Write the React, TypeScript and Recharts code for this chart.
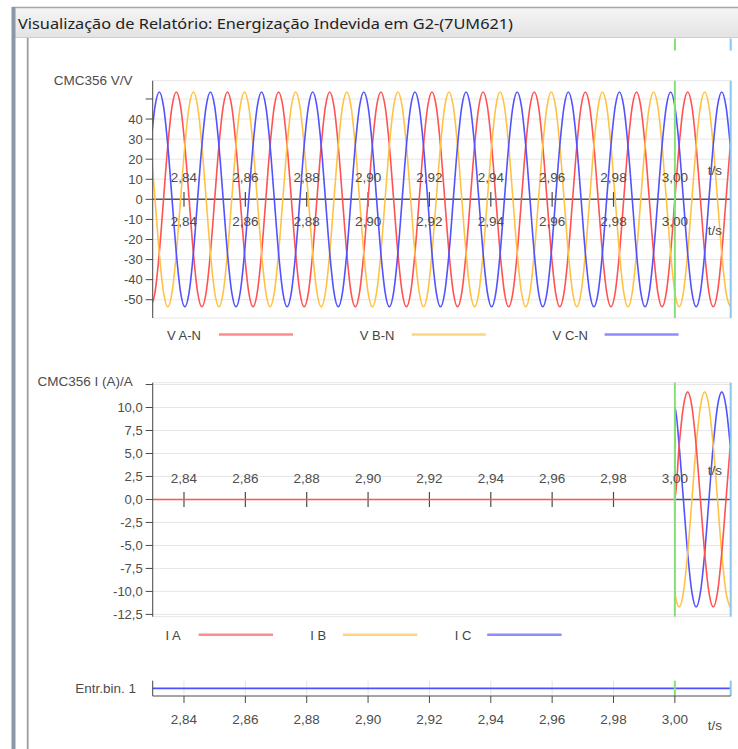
import React from "react";
import {
  LineChart,
  Line,
  XAxis,
  YAxis,
  CartesianGrid,
  ReferenceLine,
  ReferenceDot,
} from "recharts";

// ---- data ----
const timeTicks = [2.84, 2.86, 2.88, 2.9, 2.92, 2.94, 2.96, 2.98, 3.0];
const timeDomain: [number, number] = [2.8298, 3.0182];
const energizeTime = 3.0;

const voltageTicks = [-50, -40, -30, -20, -10, 0, 10, 20, 30, 40, 50];
const currentTicks = [-12.5, -10, -7.5, -5, -2.5, 0, 2.5, 5, 7.5, 10, 12.5];

const voltageNames = ["V A-N", "V B-N", "V C-N"];
const currentNames = ["I A", "I B", "I C"];
const binaryName = "Entr.bin. 1";

// sample times, s (12 samples per 60 Hz cycle)
const sampleTimes = [
  2.82917, 2.83056, 2.83194, 2.83333, 2.83472, 2.83611, 2.8375, 2.83889, 2.84028, 2.84167, 2.84306, 2.84444,
  2.84583, 2.84722, 2.84861, 2.85, 2.85139, 2.85278, 2.85417, 2.85556, 2.85694, 2.85833, 2.85972, 2.86111,
  2.8625, 2.86389, 2.86528, 2.86667, 2.86806, 2.86944, 2.87083, 2.87222, 2.87361, 2.875, 2.87639, 2.87778,
  2.87917, 2.88056, 2.88194, 2.88333, 2.88472, 2.88611, 2.8875, 2.88889, 2.89028, 2.89167, 2.89306, 2.89444,
  2.89583, 2.89722, 2.89861, 2.9, 2.90139, 2.90278, 2.90417, 2.90556, 2.90694, 2.90833, 2.90972, 2.91111,
  2.9125, 2.91389, 2.91528, 2.91667, 2.91806, 2.91944, 2.92083, 2.92222, 2.92361, 2.925, 2.92639, 2.92778,
  2.92917, 2.93056, 2.93194, 2.93333, 2.93472, 2.93611, 2.9375, 2.93889, 2.94028, 2.94167, 2.94306, 2.94444,
  2.94583, 2.94722, 2.94861, 2.95, 2.95139, 2.95278, 2.95417, 2.95556, 2.95694, 2.95833, 2.95972, 2.96111,
  2.9625, 2.96389, 2.96528, 2.96667, 2.96806, 2.96944, 2.97083, 2.97222, 2.97361, 2.975, 2.97639, 2.97778,
  2.97917, 2.98056, 2.98194, 2.98333, 2.98472, 2.98611, 2.9875, 2.98889, 2.99028, 2.99167, 2.99306, 2.99444,
  2.99583, 2.99722, 2.99861, 3.0, 3.00139, 3.00278, 3.00417, 3.00556, 3.00694, 3.00833, 3.00972, 3.01111,
  3.0125, 3.01389, 3.01528, 3.01667, 3.01806,
];

// V A-N, V
const vaN = [
  -53.5, -46.3, -26.8, 0, 26.8, 46.3, 53.5, 46.3, 26.8, 0, -26.8, -46.3,
  -53.5, -46.3, -26.8, 0, 26.8, 46.3, 53.5, 46.3, 26.8, 0, -26.8, -46.3,
  -53.5, -46.3, -26.8, 0, 26.8, 46.3, 53.5, 46.3, 26.8, 0, -26.8, -46.3,
  -53.5, -46.3, -26.8, 0, 26.8, 46.3, 53.5, 46.3, 26.8, 0, -26.8, -46.3,
  -53.5, -46.3, -26.8, 0, 26.8, 46.3, 53.5, 46.3, 26.8, 0, -26.8, -46.3,
  -53.5, -46.3, -26.8, 0, 26.8, 46.3, 53.5, 46.3, 26.8, 0, -26.8, -46.3,
  -53.5, -46.3, -26.8, 0, 26.8, 46.3, 53.5, 46.3, 26.8, 0, -26.8, -46.3,
  -53.5, -46.3, -26.8, 0, 26.8, 46.3, 53.5, 46.3, 26.8, 0, -26.8, -46.3,
  -53.5, -46.3, -26.8, 0, 26.8, 46.3, 53.5, 46.3, 26.8, 0, -26.8, -46.3,
  -53.5, -46.3, -26.8, 0, 26.8, 46.3, 53.5, 46.3, 26.8, 0, -26.8, -46.3,
  -53.5, -46.3, -26.8, 0, 26.8, 46.3, 53.5, 46.3, 26.8, 0, -26.8, -46.3,
  -53.5, -46.3, -26.8, 0, 26.8,
];

// V B-N, V
const vbN = [
  26.8, 0, -26.8, -46.3, -53.5, -46.3, -26.8, 0, 26.8, 46.3, 53.5, 46.3,
  26.8, 0, -26.8, -46.3, -53.5, -46.3, -26.8, 0, 26.8, 46.3, 53.5, 46.3,
  26.8, 0, -26.8, -46.3, -53.5, -46.3, -26.8, 0, 26.8, 46.3, 53.5, 46.3,
  26.8, 0, -26.8, -46.3, -53.5, -46.3, -26.8, 0, 26.8, 46.3, 53.5, 46.3,
  26.8, 0, -26.8, -46.3, -53.5, -46.3, -26.8, 0, 26.8, 46.3, 53.5, 46.3,
  26.8, 0, -26.8, -46.3, -53.5, -46.3, -26.8, 0, 26.8, 46.3, 53.5, 46.3,
  26.8, 0, -26.8, -46.3, -53.5, -46.3, -26.8, 0, 26.8, 46.3, 53.5, 46.3,
  26.8, 0, -26.8, -46.3, -53.5, -46.3, -26.8, 0, 26.8, 46.3, 53.5, 46.3,
  26.8, 0, -26.8, -46.3, -53.5, -46.3, -26.8, 0, 26.8, 46.3, 53.5, 46.3,
  26.8, 0, -26.8, -46.3, -53.5, -46.3, -26.8, 0, 26.8, 46.3, 53.5, 46.3,
  26.8, 0, -26.8, -46.3, -53.5, -46.3, -26.8, 0, 26.8, 46.3, 53.5, 46.3,
  26.8, 0, -26.8, -46.3, -53.5,
];

// V C-N, V
const vcN = [
  26.8, 46.3, 53.5, 46.3, 26.8, 0, -26.8, -46.3, -53.5, -46.3, -26.8, 0,
  26.8, 46.3, 53.5, 46.3, 26.8, 0, -26.8, -46.3, -53.5, -46.3, -26.8, 0,
  26.8, 46.3, 53.5, 46.3, 26.8, 0, -26.8, -46.3, -53.5, -46.3, -26.8, 0,
  26.8, 46.3, 53.5, 46.3, 26.8, 0, -26.8, -46.3, -53.5, -46.3, -26.8, 0,
  26.8, 46.3, 53.5, 46.3, 26.8, 0, -26.8, -46.3, -53.5, -46.3, -26.8, 0,
  26.8, 46.3, 53.5, 46.3, 26.8, 0, -26.8, -46.3, -53.5, -46.3, -26.8, 0,
  26.8, 46.3, 53.5, 46.3, 26.8, 0, -26.8, -46.3, -53.5, -46.3, -26.8, 0,
  26.8, 46.3, 53.5, 46.3, 26.8, 0, -26.8, -46.3, -53.5, -46.3, -26.8, 0,
  26.8, 46.3, 53.5, 46.3, 26.8, 0, -26.8, -46.3, -53.5, -46.3, -26.8, 0,
  26.8, 46.3, 53.5, 46.3, 26.8, 0, -26.8, -46.3, -53.5, -46.3, -26.8, 0,
  26.8, 46.3, 53.5, 46.3, 26.8, 0, -26.8, -46.3, -53.5, -46.3, -26.8, 0,
  26.8, 46.3, 53.5, 46.3, 26.8,
];

// currents, A (zero until the unit is energized at 3,00 s)
const iaTimes = [2.82917, 3.0, 3.00139, 3.00278, 3.00417, 3.00556, 3.00694, 3.00833, 3.00972, 3.01111, 3.0125, 3.01389, 3.01528, 3.01667, 3.01806];
const iaValues = [0, 0, 5.85, 10.1, 11.7, 10.1, 5.85, 0, -5.85, -10.1, -11.7, -10.1, -5.85, 0, 5.85];
const ibTimes = [2.99995, 3.0, 3.00139, 3.00278, 3.00417, 3.00556, 3.00694, 3.00833, 3.00972, 3.01111, 3.0125, 3.01389, 3.01528, 3.01667, 3.01806];
const ibValues = [0, -10.1, -11.7, -10.1, -5.85, 0, 5.85, 10.1, 11.7, 10.1, 5.85, 0, -5.85, -10.1, -11.7];
const icTimes = [2.99995, 3.0, 3.00139, 3.00278, 3.00417, 3.00556, 3.00694, 3.00833, 3.00972, 3.01111, 3.0125, 3.01389, 3.01528, 3.01667, 3.01806];
const icValues = [0, 10.1, 5.85, 0, -5.85, -10.1, -11.7, -10.1, -5.85, 0, 5.85, 10.1, 11.7, 10.1, 5.85];

// binary input
const binTimes = [2.82917, 3.01806];
const binValues = [1, 1];

// ---- styling ----
const FONT = "'Liberation Sans', Arial, sans-serif";
const AXIS = "#4a4a4a";
const GRID = "#e6e6e6";
const TEXT = "#4d4d4d";
const PHASE = ["#ff5252", "#ffc245", "#5252ff"];
const PHASE_LEGEND = ["#ff8c8c", "#ffd47f", "#8c8cff"];
const CURSOR_GREEN = "#86e07a";
const CURSOR_BLUE = "#8ec4f0";

const fmtTime = (t: number) => t.toFixed(2).replace(".", ",");
const fmtVolt = (v: number) => (v === 50 ? "" : String(v));
const fmtAmp = (v: number) => (v === 12.5 ? "" : v.toFixed(1).replace(".", ","));

const voltageData = sampleTimes.map((t, i) => ({ t, va: vaN[i], vb: vbN[i], vc: vcN[i] }));
const iaData = iaTimes.map((t, i) => ({ t, v: iaValues[i] }));
const ibData = ibTimes.map((t, i) => ({ t, v: ibValues[i] }));
const icData = icTimes.map((t, i) => ({ t, v: icValues[i] }));
const binData = binTimes.map((t, i) => ({ t, v: binValues[i] }));

const abs: React.CSSProperties = { position: "absolute", left: 0, top: 0 };

function timeLabels(offset: number, position: "top" | "bottom", prefix: string) {
  return timeTicks.map((t) => (
    <ReferenceDot
      key={prefix + t}
      x={t}
      y={0}
      r={1}
      fill="none"
      stroke="none"
      label={{ value: fmtTime(t), position, offset, fill: TEXT, fontSize: 13.5, fontFamily: FONT }}
    />
  ));
}

function tickCrosses(half: number) {
  return timeTicks.map((t) => (
    <ReferenceLine
      key={"x" + t}
      segment={[
        { x: t, y: -half },
        { x: t, y: half },
      ]}
      stroke={AXIS}
      strokeWidth={1.2}
    />
  ));
}

function Cursors() {
  return null;
}

export default function App() {
  return (
    <div style={{ ...abs, width: 738, height: 749, background: "#fff", overflow: "hidden" }}>
      {/* voltages */}
      <div style={abs}>
        <LineChart
          width={738}
          height={749}
          data={voltageData}
          margin={{ top: 80.7, right: 7.3, bottom: 431, left: 92.7 }}
        >
          <CartesianGrid stroke={GRID} />
          <XAxis
            type="number"
            dataKey="t"
            domain={timeDomain}
            allowDataOverflow
            ticks={timeTicks}
            interval={0}
            tick={false}
            tickLine={false}
            axisLine={false}
            height={0}
          />
          <YAxis
            type="number"
            domain={[-59.1, 59.1]}
            allowDataOverflow
            ticks={voltageTicks}
            interval={0}
            width={60}
            tickSize={7}
            tickMargin={3}
            stroke={AXIS}
            tickFormatter={fmtVolt}
            tick={{ fill: TEXT, fontSize: 13, fontFamily: FONT }}
          />
          <ReferenceLine y={0} stroke="#555" strokeWidth={1.5} />
          {tickCrosses(3.7)}
          {timeLabels(16.6, "top", "a")}
          {timeLabels(16.4, "bottom", "b")}
          <Line type="monotone" dataKey="va" stroke={PHASE[0]} strokeWidth={1.6} dot={false} isAnimationActive={false} />
          <Line type="monotone" dataKey="vb" stroke={PHASE[1]} strokeWidth={1.6} dot={false} isAnimationActive={false} />
          <Line type="monotone" dataKey="vc" stroke={PHASE[2]} strokeWidth={1.6} dot={false} isAnimationActive={false} />
          <ReferenceLine x={energizeTime} stroke={CURSOR_GREEN} strokeWidth={2} />
          <ReferenceLine x={timeDomain[1]} stroke={CURSOR_BLUE} strokeWidth={2} />
        </LineChart>
      </div>

      {/* currents */}
      <div style={abs}>
        <LineChart width={738} height={749} margin={{ top: 382.7, right: 7.3, bottom: 132.3, left: 92.7 }}>
          <CartesianGrid stroke={GRID} />
          <XAxis
            type="number"
            dataKey="t"
            domain={timeDomain}
            allowDataOverflow
            ticks={timeTicks}
            interval={0}
            tick={false}
            tickLine={false}
            axisLine={false}
            height={0}
          />
          <YAxis
            type="number"
            domain={[-12.75, 12.7]}
            allowDataOverflow
            ticks={currentTicks}
            interval={0}
            width={60}
            tickSize={7}
            tickMargin={3}
            stroke={AXIS}
            tickFormatter={fmtAmp}
            tick={{ fill: TEXT, fontSize: 13, fontFamily: FONT }}
          />
          <ReferenceLine
            segment={[
              { x: energizeTime, y: 0 },
              { x: timeDomain[1], y: 0 },
            ]}
            stroke="#555"
            strokeWidth={1.5}
          />
          {tickCrosses(0.82)}
          {timeLabels(15.8, "top", "c")}
          <Line data={icData} type="monotone" dataKey="v" name={currentNames[2]} stroke={PHASE[2]} strokeWidth={1.6} dot={false} isAnimationActive={false} />
          <Line data={ibData} type="monotone" dataKey="v" name={currentNames[1]} stroke={PHASE[1]} strokeWidth={1.6} dot={false} isAnimationActive={false} />
          <Line data={iaData} type="monotone" dataKey="v" name={currentNames[0]} stroke={PHASE[0]} strokeWidth={1.6} dot={false} isAnimationActive={false} />
          <ReferenceLine x={energizeTime} stroke={CURSOR_GREEN} strokeWidth={2} />
          <ReferenceLine x={timeDomain[1]} stroke={CURSOR_BLUE} strokeWidth={2} />
        </LineChart>
      </div>

      {/* binary input */}
      <div style={abs}>
        <LineChart width={738} height={749} data={binData} margin={{ top: 680.7, right: 7.3, bottom: 13, left: 92.7 }}>
          <CartesianGrid stroke={GRID} horizontal={false} />
          <XAxis
            type="number"
            dataKey="t"
            domain={timeDomain}
            allowDataOverflow
            ticks={timeTicks}
            interval={0}
            height={40}
            tickSize={7}
            tickMargin={11}
            stroke={AXIS}
            tickFormatter={fmtTime}
            tick={{ fill: TEXT, fontSize: 13.5, fontFamily: FONT }}
          />
          <YAxis type="number" domain={[0, 2]} width={60} tick={false} tickLine={false} stroke={AXIS} />
          <Line type="linear" dataKey="v" stroke="#4f4fff" strokeWidth={1.6} dot={false} isAnimationActive={false} />
          <ReferenceLine x={energizeTime} stroke={CURSOR_GREEN} strokeWidth={2} />
          <ReferenceLine x={timeDomain[1]} stroke={CURSOR_BLUE} strokeWidth={2} />
        </LineChart>
      </div>

      {/* window frame, titles and legends */}
      <svg width={738} height={749} style={{ ...abs, pointerEvents: "none" }}>
        <defs>
          <linearGradient id="titlebar" x1="0" y1="0" x2="0" y2="1">
            <stop offset="0" stopColor="#f5f5f5" />
            <stop offset="1" stopColor="#e3e3e3" />
          </linearGradient>
        </defs>
        <rect x={12} y={7} width={726} height={31} fill="url(#titlebar)" />
        <line x1={12} x2={738} y1={7.5} y2={7.5} stroke="#a2a7b0" strokeWidth={1.5} />
        <line x1={12} x2={738} y1={37.5} y2={37.5} stroke="#cdcdcd" />
        <rect x={11.5} y={7} width={4} height={742} fill="#8b96a8" />
        <rect x={26.8} y={38} width={1.8} height={711} fill="#9d9d9d" />
        <text
          x={18}
          y={29.3}
          fontFamily="'Noto Sans', 'Open Sans', sans-serif"
          fontSize={15}
          fill="#222"
          textLength={495}
          lengthAdjust="spacingAndGlyphs"
        >
          Visualização de Relatório: Energização Indevida em G2-(7UM621)
        </text>
        <rect x={674} y={38.5} width={2} height={12} fill={CURSOR_GREEN} />
        <rect x={729.7} y={38.5} width={2} height={12} fill={CURSOR_BLUE} />

        <g fontFamily={FONT} fill={TEXT}>
          <text x={132.5} y={84.5} fontSize={13.5} textAnchor="end">CMC356 V/V</text>
          <text x={132.7} y={385.5} fontSize={13.5} textAnchor="end">CMC356 I (A)/A</text>
          <text x={136} y={693} fontSize={13.5} textAnchor="end">{binaryName}</text>
          <text x={715} y={175} fontSize={13.5} textAnchor="middle">t/s</text>
          <text x={715} y={234.5} fontSize={13.5} textAnchor="middle">t/s</text>
          <text x={715} y={475} fontSize={13.5} textAnchor="middle">t/s</text>
          <text x={715} y={730} fontSize={13.5} textAnchor="middle">t/s</text>
        </g>

        {voltageNames.map((n, i) => (
          <g key={n}>
            <text x={167 + i * 192.8} y={339.5} fontSize={13} fontFamily={FONT} fill="#444">{n}</text>
            <line x1={219 + i * 192.8} x2={293 + i * 192.8} y1={334.5} y2={334.5} stroke={PHASE_LEGEND[i]} strokeWidth={2.5} />
          </g>
        ))}
        {currentNames.map((n, i) => (
          <g key={n}>
            <text x={165.6 + i * 144.6} y={639.5} fontSize={13} fontFamily={FONT} fill="#444">{n}</text>
            <line x1={198.6 + i * 144.3} x2={273 + i * 144.3} y1={634.7} y2={634.7} stroke={PHASE_LEGEND[i]} strokeWidth={2.5} />
          </g>
        ))}
      </svg>
      <Cursors />
    </div>
  );
}
